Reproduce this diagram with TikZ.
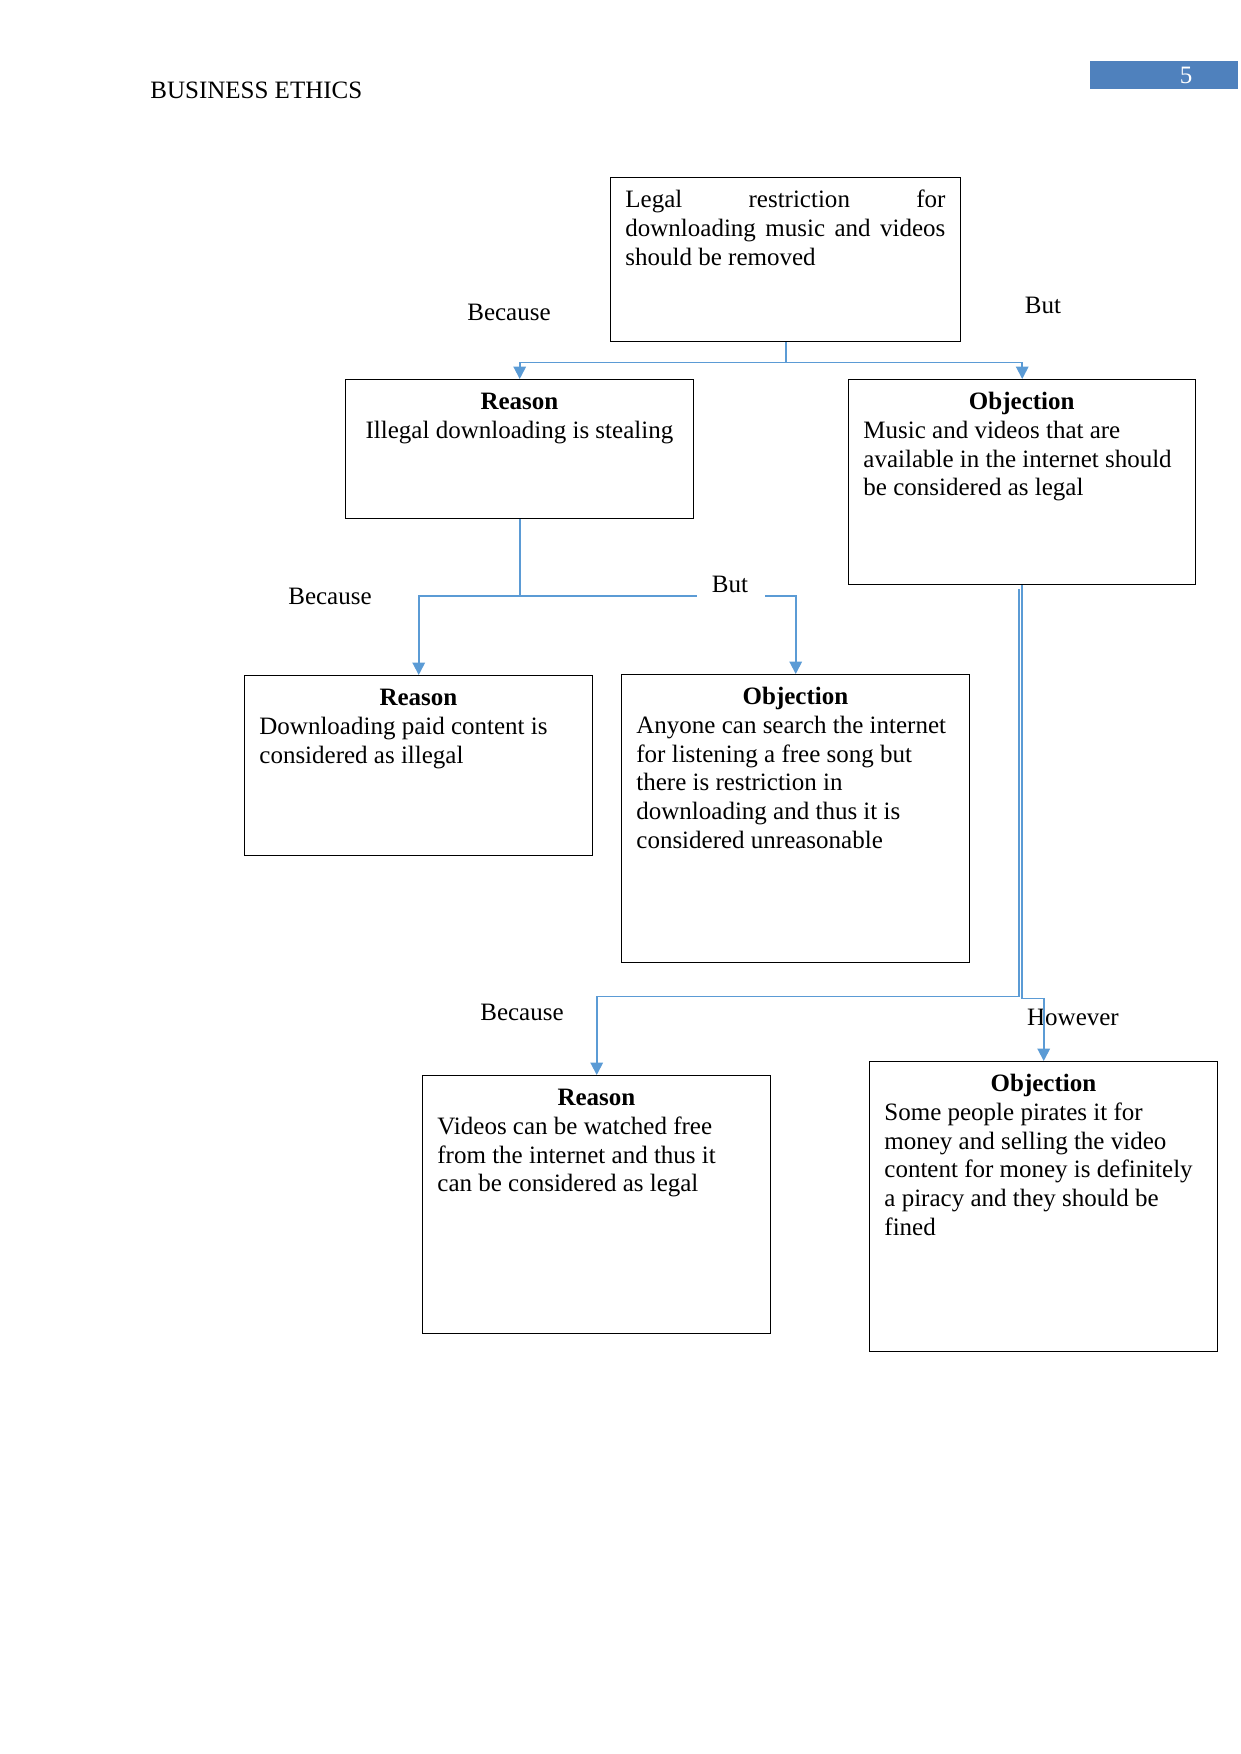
\documentclass[tikz,border=0pt]{standalone}
\usepackage{fontspec}
\setmainfont{Liberation Serif}
\usetikzlibrary{arrows.meta,calc}
\definecolor{conncol}{RGB}{91,155,213}
\definecolor{pgblue}{RGB}{79,129,189}
\newcommand{\wsp}{\spaceskip=0.25em\relax\xspaceskip=0.25em\relax}
\begin{document}
\begin{tikzpicture}[x=0.48pt, y=-0.48pt, font=\fontsize{12}{13.8}\selectfont,
  bx/.style={draw=black, line width=0.7pt, anchor=north west, minimum width=167.04pt, inner sep=0pt},
  txt/.style={anchor=north west, inner sep=0pt, text width=152.64pt, align=left},
  lnk/.style={draw=conncol, line width=0.9pt},
  arr/.style={lnk, -{Triangle[width=6pt,length=6pt]}},
  lbl/.style={inner sep=0pt}]
\useasboundingbox (0,0) rectangle (1241,1754);

% header
\node[lbl, anchor=west] (hdr) at (150,90) {BUSINESS ETHICS};
\node[fill=pgblue, minimum width=71.04pt, minimum height=13.44pt, anchor=north west, inner sep=0pt] (pgbox) at (1090,61) {};
\node[lbl, text=white] (pgnum) at (1186,75) {5};

% boxes
\node[bx, minimum width=168pt, minimum height=78.72pt] (top) at (610,177) {};
\node[bx, minimum height=66.72pt] (r1) at (345,379) {};
\node[bx, minimum width=166.56pt, minimum height=98.4pt] (o1) at (848,379) {};
\node[bx, minimum height=86.4pt] (r2) at (244,675) {};
\node[bx, minimum height=138.24pt] (o2) at (621,674) {};
\node[bx, minimum height=123.84pt] (r3) at (422,1075) {};
\node[bx, minimum height=139.2pt] (o3) at (869,1061) {};

% texts
\node[txt, align=justify, text width=153.6pt] (ttop) at ($(top.north west)+(15,10)$)
  {\strut Legal restriction for\linebreak downloading music and videos\linebreak should be removed};
\node[txt, align=center] (tr1) at ($(r1.north west)+(15,10)$)
  {\wsp\strut\textbf{Reason}\\Illegal downloading is stealing};
\node[txt, text width=152pt] (to1) at ($(o1.north west)+(15,10)$)
  {\wsp\makebox[\linewidth]{\strut\textbf{Objection}}\\Music and videos that are\\available in the internet should\\be considered as legal};
\node[txt] (tr2) at ($(r2.north west)+(15,10)$)
  {\wsp\makebox[\linewidth]{\strut\textbf{Reason}}\\Downloading paid content is\\considered as illegal};
\node[txt] (to2) at ($(o2.north west)+(15,10)$)
  {\wsp\makebox[\linewidth]{\strut\textbf{Objection}}\\Anyone can search the internet\\for listening a free song but\\there is restriction in\\downloading and thus it is\\considered unreasonable};
\node[txt] (tr3) at ($(r3.north west)+(15,10)$)
  {\wsp\makebox[\linewidth]{\strut\textbf{Reason}}\\Videos can be watched free\\from the internet and thus it\\can be considered as legal};
\node[txt] (to3) at ($(o3.north west)+(15,10)$)
  {\wsp\makebox[\linewidth]{\strut\textbf{Objection}}\\Some people pirates it for\\money and selling the video\\content for money is definitely\\a piracy and they should be\\fined};

% labels
\node[lbl] (lb1) at (509,312) {Because};
\node[lbl] (lbut1) at (1043,305) {But};
\node[lbl] (lb2) at (330,596) {Because};
\node[lbl] (lbut2) at (730,584) {But};
\node[lbl] (lb3) at (522,1012) {Because};
\node[lbl] (lhow) at (1073,1017) {However};

% connectors
\draw[arr] (top.south) -- ++(0,20) -| (r1.north);
\draw[arr] (top.south) -- ++(0,20) -| (o1.north);

\coordinate (gapL) at (697,596);
\coordinate (gapR) at (765,596);
\coordinate (j2) at (r1.south |- gapL);
\draw[arr] (r1.south) -- (j2) -| (r2.north);
\draw[lnk] (j2) -- (gapL);
\draw[arr] (gapR) -| (o2.north);

\draw[arr] ($(o1.south)+(-3.5,4)$) -- ++(0,407) -| (r3.north);
\draw[arr] (o1.south) -- ++(0,413) -| (o3.north);
\end{tikzpicture}
\end{document}
